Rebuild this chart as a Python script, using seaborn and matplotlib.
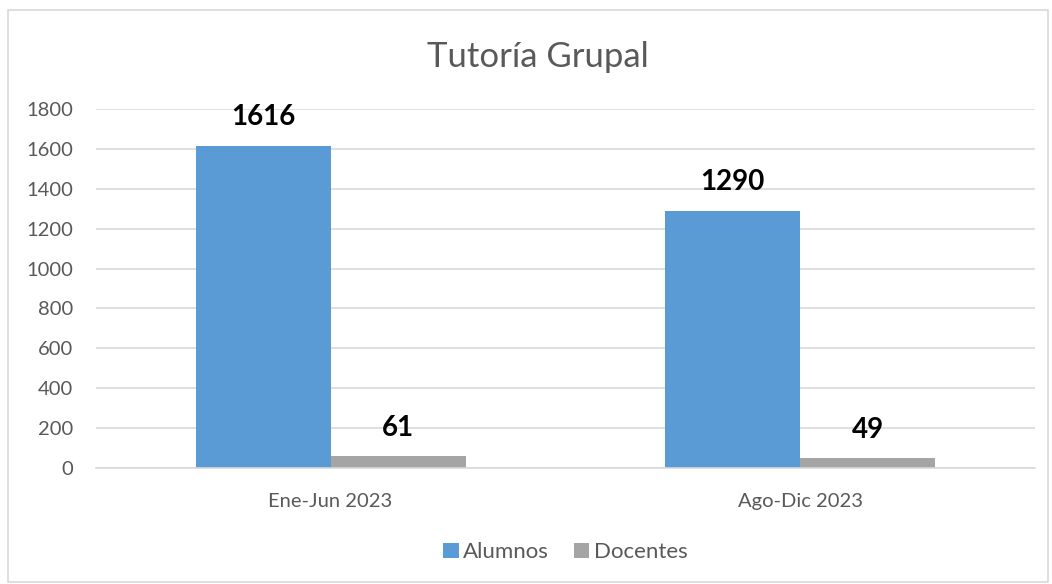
import pandas as pd
import matplotlib.pyplot as plt
import seaborn as sns
from matplotlib.patches import Rectangle

periodos = ['Ene-Jun 2023', 'Ago-Dic 2023']
alumnos = [1616, 1290]
docentes = [61, 49]
series = ['Alumnos', 'Docentes']
colores = ['#5B9BD5', '#A5A5A5']

df = pd.DataFrame({
    'periodo': periodos * 2,
    'serie': [series[0]] * len(periodos) + [series[1]] * len(periodos),
    'valor': alumnos + docentes,
})

sns.set_theme(style='white')
plt.rcParams['font.family'] = ['Lato', 'DejaVu Sans']
txt = '#595959'

fig = plt.figure(figsize=(10.52, 5.84), dpi=100)
ax = fig.add_axes([0.091, 0.1986, 0.893, 0.6148])
sns.barplot(data=df, x='periodo', y='valor', hue='serie', palette=colores,
            width=0.575, saturation=1, linewidth=0, ax=ax, legend=True)

for c in ax.containers:
    ax.bar_label(c, fmt='%d', padding=11, fontsize=20, fontweight='bold', color='black')

ax.set_ylim(0, 1800)
ax.set_yticks(range(0, 1801, 200))
ax.yaxis.grid(True, color='#D9D9D9', linewidth=1.2)
ax.set_axisbelow(True)
for s in ['top', 'right', 'left']:
    ax.spines[s].set_visible(False)
ax.spines['bottom'].set_color('#D9D9D9')
ax.spines['bottom'].set_linewidth(1.2)
ax.tick_params(axis='y', length=0, labelsize=14.5, labelcolor=txt, pad=16)
ax.tick_params(axis='x', length=0, labelsize=14.5, labelcolor=txt, pad=18)
ax.set_xlabel('')
ax.set_ylabel('')
fig.text(0.511, 0.885, 'Tutoría Grupal', fontsize=25, color=txt, ha='center', va='baseline')

ax.legend(loc='center', bbox_to_anchor=(0.5, -0.235), ncol=2, frameon=False,
          fontsize=16, labelcolor=txt, handlelength=0.7, handleheight=0.7,
          handletextpad=0.2, columnspacing=1.1)

fig.patches.append(Rectangle((0.008, 0.003), 0.988, 0.98, transform=fig.transFigure,
                             fill=False, edgecolor='#D9D9D9', linewidth=1.2))

fig.savefig('out.png', dpi=100)
print('Saved out.png')
